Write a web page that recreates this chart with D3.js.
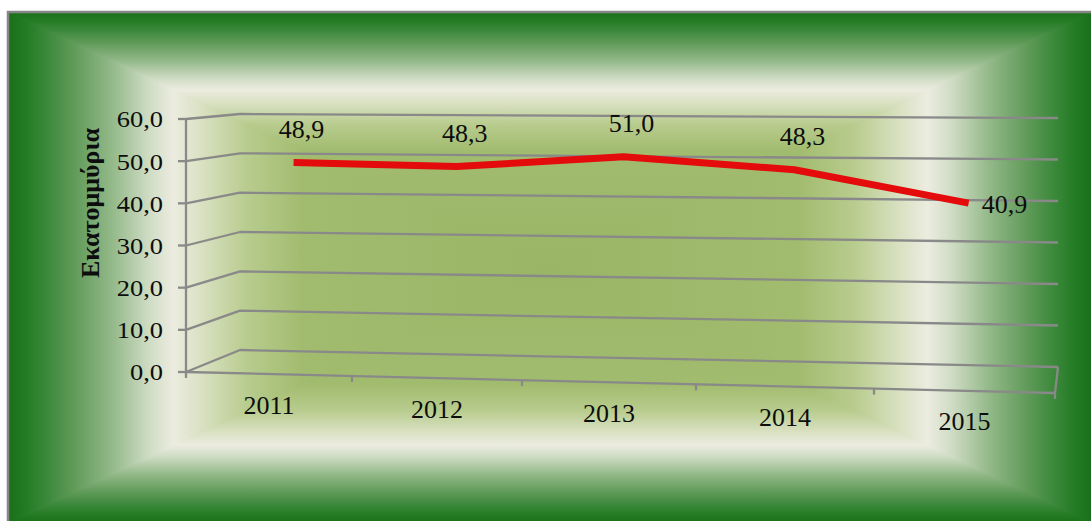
<!DOCTYPE html>
<html>
<head>
<meta charset="utf-8">
<script src="https://cdn.jsdelivr.net/npm/d3@7"></script>
<style>
  html, body { margin: 0; padding: 0; background: #ffffff; overflow: hidden; }
  text { font-family: "Liberation Serif", "Times New Roman", serif; fill: #0d0d0d; }
</style>
</head>
<body>
<svg id="chart" width="1091" height="521"></svg>
<script>
// ---- data ----
const years = ["2011", "2012", "2013", "2014", "2015"];
const values = [48.9, 48.3, 51.0, 48.3, 40.9];
const valueTicks = [0, 10, 20, 30, 40, 50, 60];
const axisTitle = "Εκατομμύρια";
const labelPlacement = ["above", "above", "above", "above", "right"];

// Greek number format: comma as decimal separator
const greek = d3.formatLocale({ decimal: ",", thousands: ".", grouping: [3], currency: ["", " €"] });
const fmt = greek.format(".1f");

const svg = d3.select("#chart");
const defs = svg.append("defs");

// ---- framed background: rectangular gradient, dark green edges -> cream -> light green ----
const frame = { x0: 8, y0: 12, x1: 1093, y1: 523 };
const cx = (frame.x0 + frame.x1) / 2, cy = (frame.y0 + frame.y1) / 2;
const stops = [
  [0, "#1a701a"], [0.03, "#227a22"], [0.07, "#3a883a"], [0.12, "#5f9a58"],
  [0.19, "#92b888"], [0.26, "#cfdcc4"], [0.305, "#ecece0"], [0.36, "#d8e0c0"],
  [0.44, "#b8cc8e"], [0.54, "#a2bc6f"], [1, "#99b565"]
];
const sides = [
  { id: "bgTop",    a: [cx, frame.y0], b: [cx, cy], pts: [[frame.x0, frame.y0], [frame.x1, frame.y0], [cx, cy]] },
  { id: "bgBottom", a: [cx, frame.y1], b: [cx, cy], pts: [[frame.x0, frame.y1], [frame.x1, frame.y1], [cx, cy]] },
  { id: "bgLeft",   a: [frame.x0, cy], b: [cx, cy], pts: [[frame.x0, frame.y0], [frame.x0, frame.y1], [cx, cy]] },
  { id: "bgRight",  a: [frame.x1, cy], b: [cx, cy], pts: [[frame.x1, frame.y0], [frame.x1, frame.y1], [cx, cy]] }
];
sides.forEach(s => {
  const g = defs.append("linearGradient").attr("id", s.id)
    .attr("gradientUnits", "userSpaceOnUse")
    .attr("x1", s.a[0]).attr("y1", s.a[1]).attr("x2", s.b[0]).attr("y2", s.b[1]);
  stops.forEach(([o, c]) => g.append("stop").attr("offset", o).attr("stop-color", c));
});
const bg = svg.append("g");
bg.append("rect").attr("x", frame.x0).attr("y", frame.y0)
  .attr("width", frame.x1 - frame.x0).attr("height", frame.y1 - frame.y0).attr("fill", "#99b565");
bg.selectAll("path.side").data(sides).join("path")
  .attr("class", "side")
  .attr("d", s => "M" + s.pts.map(p => p.join(",")).join("L") + "Z")
  .attr("fill", s => `url(#${s.id})`)
  .attr("stroke", s => `url(#${s.id})`)
  .attr("stroke-width", 1.2);
// frame border (top and left edges)
bg.append("path")
  .attr("d", `M${frame.x0},${frame.y1}L${frame.x0},${frame.y0}L${frame.x1},${frame.y0}`)
  .attr("fill", "none").attr("stroke", "#868686").attr("stroke-width", 2.5);

// ---- 3-D projection of (category position u, value v, depth d) ----
const vMax = d3.max(valueTicks);
const nCat = years.length;
// category boundaries along the front edge (foreshortened)
const xFront = d3.scaleLinear().domain(d3.range(nCat + 1)).range([186, 352, 522, 696, 874, 1055]);
const xBack = d3.scaleLinear().domain([186, 1055]).range([240, 1058]);
const along = d3.scaleLinear().domain([186, 1055]).range([0, 1]);
const yFrontL = d3.scaleLinear().domain([0, vMax]).range([372, 119]);
const yFrontR = d3.scaleLinear().domain([0, vMax]).range([393, 126]);
const yBackL = d3.scaleLinear().domain([0, vMax]).range([350, 114]);
const yBackR = d3.scaleLinear().domain([0, vMax]).range([367, 118]);

function project(u, v, d) {
  const xf = xFront(u), xb = xBack(xf), t = along(xf);
  const yf = d3.interpolateNumber(yFrontL(v), yFrontR(v))(t);
  const yb = d3.interpolateNumber(yBackL(v), yBackR(v))(t);
  return [xf + (xb - xf) * d, yf + (yb - yf) * d];
}
const pathOf = pts => d3.line()(pts);

const axisColor = "#898989";
const axes = svg.append("g").attr("fill", "none").attr("stroke", axisColor)
  .attr("stroke-width", 2.3).attr("stroke-linejoin", "round");

// gridlines: side wall diagonal then back wall
axes.selectAll("path.grid").data(valueTicks).join("path")
  .attr("class", "grid")
  .attr("d", v => pathOf([project(0, v, 0), project(0, v, 1), project(nCat, v, 1)]));

// floor: front edge and right edge
axes.append("path")
  .attr("d", pathOf([project(0, 0, 0), project(nCat, 0, 0), project(nCat, 0, 1)]));

// vertical value axis
axes.append("path").attr("d", pathOf([project(0, 0, 0), project(0, vMax, 0)]));

// value axis ticks
axes.selectAll("path.ytick").data(valueTicks).join("path")
  .attr("class", "ytick")
  .attr("d", v => { const [x, y] = project(0, v, 0); return pathOf([[x - 8, y], [x, y]]); });

// category boundary ticks
axes.selectAll("path.xtick").data(d3.range(nCat + 1)).join("path")
  .attr("class", "xtick")
  .attr("d", u => { const [x, y] = project(u, 0, 0); return pathOf([[x, y], [x, y + 6]]); });

// value tick labels
svg.append("g").selectAll("text").data(valueTicks).join("text")
  .attr("transform", v => { const [, y] = project(0, v, 0); return `translate(163,${y + 0.5}) scale(1.15,1)`; })
  .attr("text-anchor", "end").attr("dominant-baseline", "central")
  .style("font-size", "23px")
  .text(v => fmt(v));

// category labels
svg.append("g").selectAll("text").data(years).join("text")
  .attr("x", (c, i) => project(i + 0.5, 0, 0)[0])
  .attr("y", (c, i) => project(i + 0.5, 0, 0)[1] + 31)
  .attr("text-anchor", "middle").attr("dominant-baseline", "central")
  .style("font-size", "26px")
  .text(c => c);

// axis title
svg.append("text")
  .attr("transform", "translate(90,203) rotate(-90)")
  .attr("text-anchor", "middle").attr("dominant-baseline", "central")
  .style("font-size", "26px").style("font-weight", "bold")
  .text(axisTitle);

// ---- series line ----
const pts = values.map((v, i) => project(i + 0.5, v, 0.5));
svg.append("path")
  .attr("d", d3.line()(pts))
  .attr("fill", "none").attr("stroke", "#e30b0b")
  .attr("stroke-width", 7).attr("stroke-linejoin", "round");

// data labels
svg.append("g").selectAll("text").data(values).join("text")
  .attr("x", (v, i) => labelPlacement[i] === "right" ? pts[i][0] + 13 : pts[i][0] + 8)
  .attr("y", (v, i) => labelPlacement[i] === "right" ? pts[i][1] + 1 : pts[i][1] - 33)
  .attr("text-anchor", (v, i) => labelPlacement[i] === "right" ? "start" : "middle")
  .attr("dominant-baseline", "central")
  .style("font-size", "26px")
  .text(v => fmt(v));
</script>
</body>
</html>
